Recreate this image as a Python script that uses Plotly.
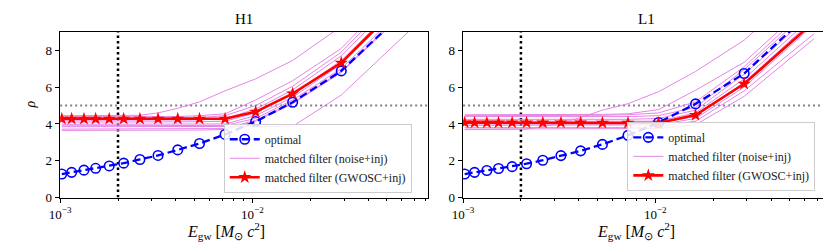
import plotly.graph_objects as go
import math

# ---------------- data ----------------
E_gw = [1.02e-3, 1.148e-3, 1.33e-3, 1.53e-3, 1.80e-3, 2.14e-3, 2.60e-3, 3.23e-3,
        4.09e-3, 5.31e-3, 7.21e-3, 1.04e-2, 1.62e-2, 2.90e-2, 6.70e-2]

h1_optimal = [1.28, 1.37, 1.49, 1.59, 1.72, 1.87, 2.07, 2.29, 2.59, 2.94, 3.43, 4.13, 5.18, 6.88, 10.45]
h1_gwosc = [4.28, 4.28, 4.28, 4.28, 4.28, 4.28, 4.28, 4.28, 4.28, 4.28, 4.28, 4.66, 5.65, 7.32, 11.1]
h1_noise = [
    [4.45, 4.45, 4.45, 4.45, 4.45, 4.45, 4.47, 4.60, 4.85, 5.20, 5.80, 6.45, 7.45, 9.30, 13.0],
    [4.38, 4.38, 4.38, 4.38, 4.38, 4.38, 4.38, 4.38, 4.40, 4.45, 4.55, 5.30, 6.35, 8.10, 12.0],
    [4.32, 4.32, 4.32, 4.32, 4.32, 4.32, 4.32, 4.32, 4.32, 4.35, 4.45, 5.00, 6.05, 7.90, 11.8],
    [4.20, 4.20, 4.20, 4.20, 4.20, 4.20, 4.20, 4.20, 4.20, 4.22, 4.30, 4.80, 5.85, 7.70, 11.5],
    [4.10, 4.10, 4.10, 4.10, 4.10, 4.10, 4.10, 4.10, 4.10, 4.12, 4.15, 4.60, 5.60, 7.45, 11.2],
    [3.98, 3.98, 3.98, 3.98, 3.98, 3.98, 3.98, 3.98, 3.98, 3.98, 4.00, 4.45, 5.45, 7.25, 11.0],
    [3.90, 3.90, 3.90, 3.90, 3.90, 3.90, 3.90, 3.90, 3.90, 3.90, 3.92, 4.30, 5.30, 7.00, 10.7],
    [3.72, 3.72, 3.72, 3.72, 3.72, 3.72, 3.72, 3.72, 3.72, 3.73, 3.75, 4.20, 5.15, 6.85, 10.5],
    [3.85, 3.85, 3.85, 3.85, 3.85, 3.85, 3.85, 3.85, 3.85, 3.85, 3.85, 3.86, 3.87, 5.57, 9.15],
    [3.65, 3.65, 3.65, 3.65, 3.65, 3.65, 3.65, 3.65, 3.66, 3.67, 3.70, 4.15, 5.10, 6.80, 10.4],
]

l1_optimal = [1.28, 1.37, 1.47, 1.58, 1.68, 1.84, 2.03, 2.28, 2.54, 2.89, 3.38, 4.08, 5.09, 6.74, 10.25]
l1_gwosc = [4.07, 4.07, 4.07, 4.07, 4.07, 4.07, 4.07, 4.07, 4.07, 4.06, 4.06, 4.05, 4.48, 6.18, 9.55]
l1_noise = [
    [3.69, 3.69, 3.69, 3.69, 3.69, 3.72, 3.85, 4.05, 4.35, 4.75, 5.10, 5.75, 6.85, 8.55, 12.0],
    [4.50, 4.50, 4.50, 4.50, 4.50, 4.50, 4.50, 4.50, 4.50, 4.52, 4.55, 4.78, 5.83, 7.35, 10.8],
    [4.45, 4.45, 4.45, 4.45, 4.45, 4.45, 4.45, 4.45, 4.45, 4.47, 4.50, 4.60, 5.20, 7.10, 10.6],
    [4.40, 4.40, 4.40, 4.40, 4.40, 4.40, 4.40, 4.40, 4.40, 4.40, 4.40, 4.45, 4.90, 6.95, 10.4],
    [4.25, 4.25, 4.25, 4.25, 4.25, 4.25, 4.25, 4.25, 4.25, 4.25, 4.25, 4.30, 4.75, 6.70, 10.1],
    [4.15, 4.15, 4.15, 4.15, 4.15, 4.15, 4.15, 4.15, 4.15, 4.15, 4.15, 4.15, 4.60, 6.45, 9.9],
    [4.00, 4.00, 4.00, 4.00, 4.00, 4.00, 4.00, 4.00, 4.00, 4.00, 4.00, 4.05, 4.40, 6.25, 9.7],
    [3.92, 3.92, 3.92, 3.92, 3.92, 3.92, 3.92, 3.92, 3.92, 3.92, 3.92, 3.95, 4.30, 6.00, 9.4],
    [3.80, 3.80, 3.80, 3.80, 3.80, 3.80, 3.80, 3.80, 3.80, 3.80, 3.80, 3.85, 4.15, 5.80, 8.9],
    [3.72, 3.72, 3.72, 3.72, 3.72, 3.72, 3.72, 3.72, 3.72, 3.72, 3.72, 3.75, 3.95, 5.50, 8.63],
]

panel_titles = ["H1", "L1"]
x_tick_vals = [1e-3, 1e-2]
x_tick_text = ["10<sup>\u22123</sup>", "10<sup>\u22122</sup>"]
x_minor_vals = [2e-3, 3e-3, 4e-3, 5e-3, 6e-3, 7e-3, 8e-3, 9e-3, 2e-2, 3e-2, 4e-2, 5e-2, 6e-2, 7e-2, 8e-2]
y_tick_vals = [0, 2, 4, 6, 8]
x_limits = [1e-3, 0.0815]
y_limits = [0, 9]
rho_threshold = 5
E_marker = 2e-3

legend_labels = ["optimal", "matched filter (noise+inj)", "matched filter (GWOSC+inj)"]

# ---------------- styling ----------------
FONT = "Liberation Serif"
BLUE = "#0000ff"
RED = "#ff0000"
VIOLET = "#e585e5"

fig = go.Figure()

panels = [
    (h1_optimal, h1_gwosc, h1_noise, "x", "y", "legend"),
    (l1_optimal, l1_gwosc, l1_noise, "x2", "y2", "legend2"),
]

for opt, gw, noise, xa, ya, leg in panels:
    fig.add_trace(go.Scatter(x=x_limits, y=[rho_threshold, rho_threshold], mode="lines",
                             line=dict(color="#808080", width=2, dash="2px,3px"),
                             xaxis=xa, yaxis=ya, showlegend=False, hoverinfo="skip"))
    fig.add_trace(go.Scatter(x=[E_marker, E_marker], y=y_limits, mode="lines",
                             line=dict(color="black", width=2.5, dash="2.5px,3px"),
                             xaxis=xa, yaxis=ya, showlegend=False, hoverinfo="skip"))
    for i, series in enumerate(noise):
        fig.add_trace(go.Scatter(x=E_gw, y=series, mode="lines",
                                 line=dict(color=VIOLET, width=1),
                                 name=legend_labels[1], legend=leg, legendrank=2,
                                 showlegend=(i == 0), xaxis=xa, yaxis=ya))
    fig.add_trace(go.Scatter(x=E_gw, y=opt, mode="lines+markers",
                             line=dict(color=BLUE, width=2.3, dash="8px,4px"),
                             marker=dict(symbol="circle-open", size=9.5, color=BLUE,
                                         line=dict(width=1.6, color=BLUE)),
                             name=legend_labels[0], legend=leg, legendrank=1,
                             xaxis=xa, yaxis=ya))
    fig.add_trace(go.Scatter(x=E_gw, y=gw, mode="lines+markers",
                             line=dict(color=RED, width=2.6),
                             marker=dict(symbol="star", size=10, color=RED),
                             name=legend_labels[2], legend=leg, legendrank=3,
                             xaxis=xa, yaxis=ya))

W, H = 831, 245
x_domains = [[41.7 / W, 414 / W], [450 / W, 822.3 / W]]
y_domain = [1 - 196 / H, 1 - 24.7 / H]

axis_common = dict(showline=True, mirror=True, linecolor="black", linewidth=1,
                   showgrid=False, zeroline=False, ticks="outside", ticklen=4.5,
                   tickwidth=1, tickcolor="black",
                   tickfont=dict(family=FONT, size=13, color="black"))

xaxis_cfg = dict(axis_common, type="log",
                 range=[math.log10(x_limits[0]), math.log10(x_limits[1])],
                 tickvals=x_tick_vals, ticktext=x_tick_text,
                 minor=dict(tickvals=x_minor_vals, ticks="outside", ticklen=2.5,
                            tickwidth=0.8, tickcolor="black", showgrid=False))
yaxis_cfg = dict(axis_common, range=y_limits, tickvals=y_tick_vals)

legend_common = dict(bgcolor="rgba(255,255,255,0.85)", bordercolor="#cccccc",
                     borderwidth=1, font=dict(family=FONT, size=12, color="#222"),
                     xanchor="right", yanchor="bottom", tracegroupgap=0,
                     itemwidth=30, traceorder="normal")

fig.update_layout(
    width=W, height=H,
    margin=dict(l=0, r=0, t=0, b=0),
    paper_bgcolor="white", plot_bgcolor="white",
    font=dict(family=FONT),
    xaxis=dict(xaxis_cfg, domain=x_domains[0], anchor="y"),
    yaxis=dict(yaxis_cfg, domain=y_domain, anchor="x"),
    xaxis2=dict(xaxis_cfg, domain=x_domains[1], anchor="y2"),
    yaxis2=dict(yaxis_cfg, domain=y_domain, anchor="x2"),
    legend=dict(legend_common, x=398 / W, y=1 - 191 / H),
    legend2=dict(legend_common, x=807 / W, y=1 - 189 / H),
)

xlabel = "<i>E</i><sub>gw</sub> [<i>M</i><sub>\u2299</sub> <i>c</i><sup>2</sup>]"
xlabel_centers = [210 / W, 625 / W]
for i, t in enumerate(panel_titles):
    cx = (x_domains[i][0] + x_domains[i][1]) / 2
    fig.add_annotation(text=t, x=cx, y=1 - 11 / H, xref="paper", yref="paper",
                       showarrow=False, font=dict(family=FONT, size=15, color="black"),
                       xanchor="center", yanchor="middle")
    fig.add_annotation(text=xlabel, x=xlabel_centers[i], y=1 - 231 / H, xref="paper", yref="paper",
                       showarrow=False, font=dict(family=FONT, size=16, color="black"),
                       xanchor="center", yanchor="middle")
fig.add_annotation(text="<i>\u03c1</i>", x=12 / W, y=1 - 100 / H, xref="paper", yref="paper",
                   showarrow=False, textangle=-90, font=dict(family=FONT, size=14, color="black"),
                   xanchor="center", yanchor="middle")

fig.write_html("out.html")
